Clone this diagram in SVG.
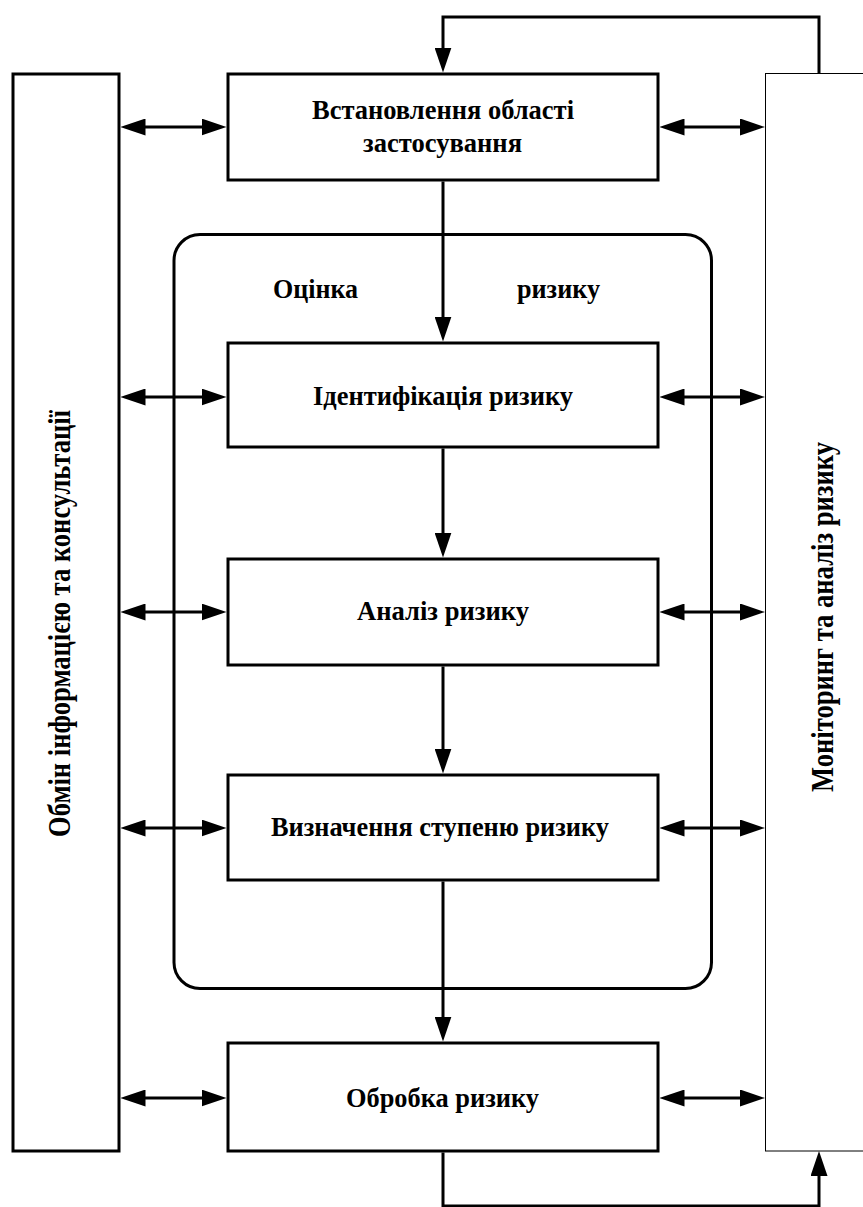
<svg xmlns="http://www.w3.org/2000/svg" width="863" height="1207" viewBox="0 0 863 1207">
  <style>
    .box { fill: #fff; stroke: #000; stroke-width: 3; }
    .bar-thin { fill: #fff; stroke: #000; stroke-width: 1; }
    .frame { fill: none; stroke: #000; stroke-width: 3; }
    .link { fill: none; stroke: #000; stroke-width: 3; }
    .lbl { font-family: "Liberation Serif", "Times New Roman", serif; font-weight: bold; font-size: 27px; text-anchor: middle; fill: #000; }
    .vlbl { font-family: "Liberation Serif", "Times New Roman", serif; font-weight: bold; font-size: 31px; text-anchor: middle; fill: #000; }
  </style>
  <defs>
    <marker id="head" markerUnits="userSpaceOnUse" viewBox="0 0 25 17" markerWidth="25" markerHeight="17" refX="15" refY="8.5" orient="auto-start-reverse">
      <path d="M0,0 L25,8.5 L0,17 Z" fill="#000"/>
    </marker>
  </defs>

  <rect width="863" height="1207" fill="#fff"/>

  <!-- assessment frame -->
  <g id="assessment">
    <rect class="frame" x="174" y="234.5" width="537.5" height="754" rx="26" ry="26"/>
    <text class="lbl" x="315.5" y="298" textLength="85" lengthAdjust="spacingAndGlyphs">Оцінка</text>
    <text class="lbl" x="558.5" y="298" textLength="83" lengthAdjust="spacingAndGlyphs">ризику</text>
  </g>

  <!-- side bars -->
  <g id="communication">
    <rect class="box" x="13" y="74" width="106" height="1077"/>
    <text class="vlbl" transform="translate(70,623.5) rotate(-90)" textLength="427" lengthAdjust="spacingAndGlyphs">Обмін інформацією та консультації</text>
  </g>
  <g id="monitoring">
    <rect class="bar-thin" x="765.5" y="73.5" width="120" height="1077.5"/>
    <text class="vlbl" transform="translate(833,617) rotate(-90)" textLength="350" lengthAdjust="spacingAndGlyphs">Моніторинг та аналіз ризику</text>
  </g>

  <!-- process steps -->
  <g id="scope">
    <rect class="box" x="228" y="74" width="430" height="106"/>
    <text class="lbl" x="443" y="119" textLength="262" lengthAdjust="spacingAndGlyphs">Встановлення області</text>
    <text class="lbl" x="442.5" y="152" textLength="159" lengthAdjust="spacingAndGlyphs">застосування</text>
  </g>
  <g id="identification">
    <rect class="box" x="228" y="343" width="430" height="104"/>
    <text class="lbl" x="443" y="405" textLength="260" lengthAdjust="spacingAndGlyphs">Ідентифікація ризику</text>
  </g>
  <g id="analysis">
    <rect class="box" x="228" y="559" width="430" height="106"/>
    <text class="lbl" x="443" y="620" textLength="172" lengthAdjust="spacingAndGlyphs">Аналіз ризику</text>
  </g>
  <g id="evaluation">
    <rect class="box" x="228" y="775" width="430" height="105"/>
    <text class="lbl" x="440" y="836" textLength="338" lengthAdjust="spacingAndGlyphs">Визначення ступеню ризику</text>
  </g>
  <g id="treatment">
    <rect class="box" x="228" y="1043" width="430" height="108"/>
    <text class="lbl" x="442.5" y="1107" textLength="193" lengthAdjust="spacingAndGlyphs">Обробка ризику</text>
  </g>

  <!-- connectors -->
  <g id="connectors">
    <!-- main flow -->
    <line class="link" x1="443" y1="181.5" x2="443" y2="331.5" marker-end="url(#head)"/>
    <line class="link" x1="443" y1="448.5" x2="443" y2="547.5" marker-end="url(#head)"/>
    <line class="link" x1="443" y1="666.5" x2="443" y2="763.5" marker-end="url(#head)"/>
    <line class="link" x1="443" y1="881.5" x2="443" y2="1031.5" marker-end="url(#head)"/>

    <!-- feedback loops -->
    <path class="link" d="M819,73 V17 H443 V62.5" marker-end="url(#head)"/>
    <path class="link" d="M443,1152.5 V1206 H819 V1161" marker-end="url(#head)"/>

    <!-- communication links -->
    <line class="link" x1="130.5" y1="127" x2="216.5" y2="127" marker-start="url(#head)" marker-end="url(#head)"/>
    <line class="link" x1="130.5" y1="397" x2="216.5" y2="397" marker-start="url(#head)" marker-end="url(#head)"/>
    <line class="link" x1="130.5" y1="612" x2="216.5" y2="612" marker-start="url(#head)" marker-end="url(#head)"/>
    <line class="link" x1="130.5" y1="828" x2="216.5" y2="828" marker-start="url(#head)" marker-end="url(#head)"/>
    <line class="link" x1="130.5" y1="1098" x2="216.5" y2="1098" marker-start="url(#head)" marker-end="url(#head)"/>

    <!-- monitoring links -->
    <line class="link" x1="669.5" y1="127" x2="755" y2="127" marker-start="url(#head)" marker-end="url(#head)"/>
    <line class="link" x1="669.5" y1="397" x2="755" y2="397" marker-start="url(#head)" marker-end="url(#head)"/>
    <line class="link" x1="669.5" y1="612" x2="755" y2="612" marker-start="url(#head)" marker-end="url(#head)"/>
    <line class="link" x1="669.5" y1="828" x2="755" y2="828" marker-start="url(#head)" marker-end="url(#head)"/>
    <line class="link" x1="669.5" y1="1098" x2="755" y2="1098" marker-start="url(#head)" marker-end="url(#head)"/>
  </g>
</svg>
